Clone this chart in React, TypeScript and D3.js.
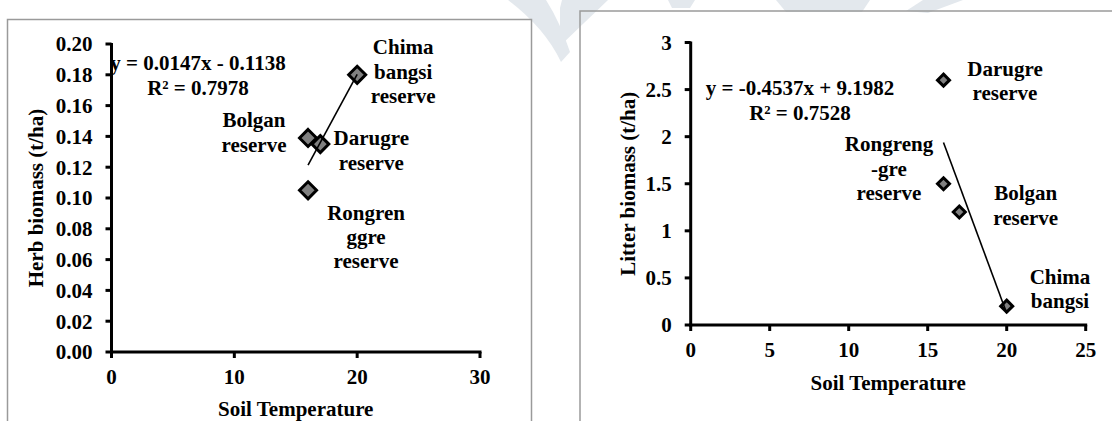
import React from "react";
import * as d3 from "d3";

// ---------- Data ----------
const herbSites = ["Chima bangsi reserve", "Bolgan reserve", "Darugre reserve", "Rongrenggre reserve"];
const herbTemp = [20, 16, 17, 16];
const herbBiomass = [0.18, 0.139, 0.135, 0.105];
const herbLabelLines = [["Chima", "bangsi", "reserve"], ["Bolgan", "reserve"], ["Darugre", "reserve"], ["Rongren", "ggre", "reserve"]];
const herbTrend = { slope: 0.0147, intercept: -0.1138, r2: 0.7978 };
const herbYTicks = [0, 0.02, 0.04, 0.06, 0.08, 0.1, 0.12, 0.14, 0.16, 0.18, 0.2];
const herbXTicks = [0, 10, 20, 30];

const litterSites = ["Darugre reserve", "Rongrenggre reserve", "Bolgan reserve", "Chima bangsi"];
const litterTemp = [16, 16, 17, 20];
const litterBiomass = [2.6, 1.5, 1.2, 0.2];
const litterLabelLines = [["Darugre", "reserve"], ["Rongreng", "-gre", "reserve"], ["Bolgan", "reserve"], ["Chima", "bangsi"]];
const litterTrend = { slope: -0.4537, intercept: 9.1982, r2: 0.7528 };
const litterYTicks = [0, 0.5, 1, 1.5, 2, 2.5, 3];
const litterXTicks = [0, 5, 10, 15, 20, 25];

// ---------- Layout ----------
const FONT = '"Liberation Serif", "Times New Roman", Times, serif';
const FS = 21;
const LINE_H = 24.4;

const herbLayout = {
  x0: 111.5, x1: 480, y0: 352, y1: 44,
  xDomain: [0, 30], yDomain: [0, 0.2],
  yFmt: d3.format(".2f"), xFmt: d3.format("d"),
  markerR: 8.5, markerStroke: 3,
  labelOffsets: [[46, -28], [-54, -18], [51, -6], [58, 22]],
  eqX: 198, eqY: 63,
  yTitle: "Herb biomass (t/ha)", yTitleX: 36,
  xTitleY: 409, xLabelDy: 25,
  trendX: [16, 20],
};
const litterLayout = {
  x0: 690.7, x1: 1085.7, y0: 325, y1: 42.5,
  xDomain: [0, 25], yDomain: [0, 3],
  yFmt: (v: number) => String(v), xFmt: d3.format("d"),
  markerR: 6, markerStroke: 3,
  labelOffsets: [[61.5, -12], [-54.5, -40], [66.4, -19], [53.3, -29.5]],
  eqX: 800, eqY: 88,
  yTitle: "Litter biomass (t/ha)", yTitleX: 628,
  xTitleY: 383, xLabelDy: 25,
  trendX: [16, 20],
};

// faint page watermark fragments (decoration)
const watermarkPaths = [
  "M508,0 L546,0 Q560,22 570,52 L561,62 Q545,28 508,0 Z",
  "M562,0 L608,0 Q585,22 560,46 L560,8 Z",
  "M668,0 L695,0 L690,8 L672,8 Z",
  "M776,0 L870,0 L862,12 L786,12 Z",
  "M923,0 L963,0 L928,13 L906,11 Z",
];

function fmtEq(t: { slope: number; intercept: number }) {
  const s = t.slope.toFixed(4);
  const b = Math.abs(t.intercept).toFixed(4);
  return `y = ${s}x ${t.intercept < 0 ? "-" : "+"} ${b}`;
}

const textStyle: React.CSSProperties = { fontFamily: FONT, fontWeight: 700, fontSize: FS };

function Panel({ L, temps, vals, lines, trend, yTicks, xTicks }: any) {
  const x = d3.scaleLinear().domain(L.xDomain).range([L.x0, L.x1]);
  const y = d3.scaleLinear().domain(L.yDomain).range([L.y0, L.y1]);
  const r = L.markerR;
  const diamond = `M0,${-r}L${r},0L0,${r}L${-r},0Z`;
  const trendLine = d3.line<number>().x((t) => x(t)).y((t) => y(trend.slope * t + trend.intercept));
  const tickLen = 6;
  return (
    <g style={textStyle} fill="#000">
      {/* axes */}
      <line x1={x(L.xDomain[0])} x2={x(L.xDomain[0])} y1={y(L.yDomain[1]) - 1} y2={y(L.yDomain[0]) + 1.5} stroke="#000" strokeWidth={3} />
      <line x1={x(L.xDomain[0]) - 1.5} x2={x(L.xDomain[1]) + 1.5} y1={y(0)} y2={y(0)} stroke="#000" strokeWidth={3} />
      {yTicks.map((t: number) => (
        <g key={"yt" + t}>
          <line x1={x(L.xDomain[0]) - tickLen} x2={x(L.xDomain[0])} y1={y(t)} y2={y(t)} stroke="#000" strokeWidth={3} />
          <text x={x(L.xDomain[0]) - 19} y={y(t)} dy="0.35em" textAnchor="end">{L.yFmt(t)}</text>
        </g>
      ))}
      {xTicks.map((t: number) => (
        <g key={"xt" + t}>
          <line x1={x(t)} x2={x(t)} y1={y(0)} y2={y(0) + tickLen} stroke="#000" strokeWidth={3} />
          <text x={x(t)} y={y(0) + L.xLabelDy} dy="0.35em" textAnchor="middle">{L.xFmt(t)}</text>
        </g>
      ))}
      <text x={(L.x0 + L.x1) / 2} y={L.xTitleY} dy="0.35em" textAnchor="middle">Soil Temperature</text>
      <text transform={`translate(${L.yTitleX},${(L.y0 + L.y1) / 2}) rotate(-90)`} dy="0.35em" textAnchor="middle">{L.yTitle}</text>
      {/* markers */}
      {temps.map((t: number, i: number) => (
        <path key={"m" + i} d={diamond} transform={`translate(${x(t)},${y(vals[i])})`} fill="#808080" stroke="#000" strokeWidth={L.markerStroke} strokeLinejoin="miter" />
      ))}
      {/* trendline */}
      <path d={trendLine(L.trendX) || ""} fill="none" stroke="#000" strokeWidth={1.6} />
      {/* point labels */}
      {temps.map((t: number, i: number) => (
        <text key={"l" + i} textAnchor="middle">
          {lines[i].map((ln: string, j: number) => (
            <tspan key={j} x={x(t) + L.labelOffsets[i][0]} y={y(vals[i]) + L.labelOffsets[i][1] + j * LINE_H} dy="0.35em">{ln}</tspan>
          ))}
        </text>
      ))}
      {/* equation */}
      <text x={L.eqX} y={L.eqY} dy="0.35em" textAnchor="middle">{fmtEq(trend)}</text>
      <text x={L.eqX} y={L.eqY + LINE_H} dy="0.35em" textAnchor="middle">{`R² = ${trend.r2.toFixed(4)}`}</text>
    </g>
  );
}

export default function App() {
  return (
    <svg width={1112} height={421} style={{ position: "absolute", left: 0, top: 0, background: "#fff" }}>
      <rect x={0} y={0} width={1112} height={421} fill="#fff" />
      {watermarkPaths.map((d, i) => (
        <path key={"wm" + i} d={d} fill="#e3e8ed" />
      ))}
      {/* frames */}
      <rect x={7.5} y={19.5} width={524} height={420} fill="none" stroke="#9a9a9a" strokeWidth={1.5} />
      <rect x={580} y={11} width={540} height={430} fill="none" stroke="#9a9a9a" strokeWidth={1.5} />
      <Panel L={herbLayout} temps={herbTemp} vals={herbBiomass} lines={herbLabelLines} trend={herbTrend} yTicks={herbYTicks} xTicks={herbXTicks} />
      <Panel L={litterLayout} temps={litterTemp} vals={litterBiomass} lines={litterLabelLines} trend={litterTrend} yTicks={litterYTicks} xTicks={litterXTicks} />
    </svg>
  );
}
